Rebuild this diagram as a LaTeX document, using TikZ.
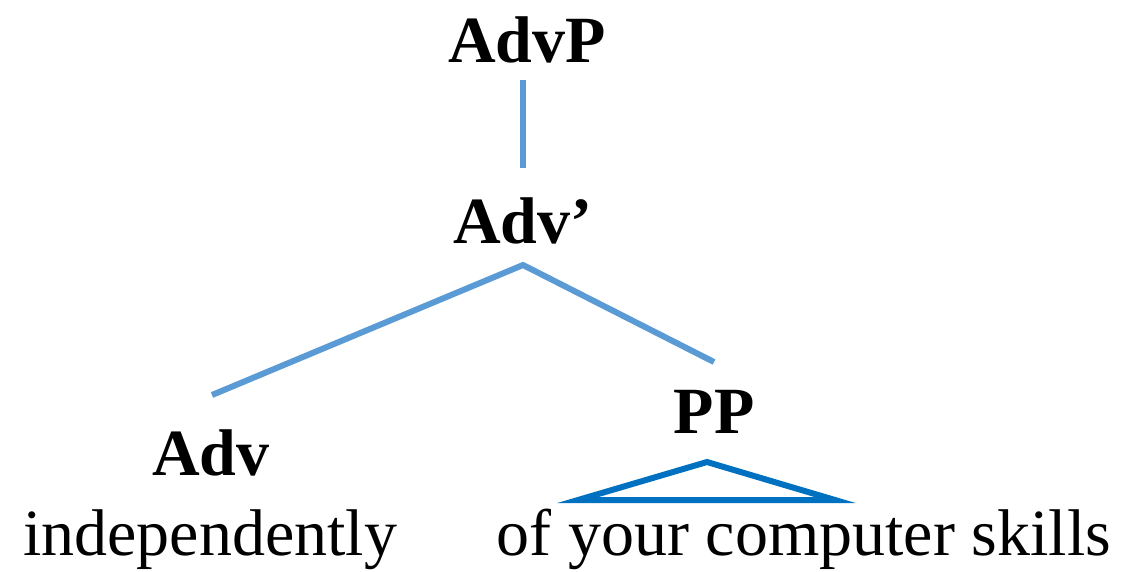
\documentclass[tikz,border=0pt]{standalone}
\usepackage{fontspec}
\setmainfont{Liberation Serif}
\begin{document}
\begin{tikzpicture}[x=1pt,y=-1pt,
  cat/.style={anchor=base,inner sep=0pt,font=\fontsize{66}{70}\selectfont\bfseries},
  word/.style={anchor=base,inner sep=0pt,font=\fontsize{66}{70}\selectfont},
  branch/.style={draw={rgb,255:red,91;green,155;blue,213},line width=6pt},
  tri/.style={draw={rgb,255:red,0;green,112;blue,192},line width=6pt,line join=miter}]
\useasboundingbox (0,0) rectangle (1122,571);
\node[cat] (advp) at (527,62) {AdvP};
\node[cat] (advbar) at (523,243) {Adv’};
\node[cat] (adv) at (211,475) {Adv};
\node[cat] (pp) at (714,433) {PP};
\node[word] (indep) at (210,555) {independently};
\node[word] (skills) at (804,555) {of your computer skills};
\coordinate (t1) at (523,80);
\coordinate (t2) at (523,168);
\coordinate (a) at (523,265);
\coordinate (bl) at (212,395);
\coordinate (br) at (714,362);
\coordinate (apex) at (707,462);
\coordinate (bl2) at (578,500);
\coordinate (br2) at (835,500);
\draw[branch] (t1) -- (t2);
\draw[branch] (bl) -- (a) -- (br);
\draw[tri] (apex) -- (br2) -- (bl2) -- cycle;
\end{tikzpicture}
\end{document}
